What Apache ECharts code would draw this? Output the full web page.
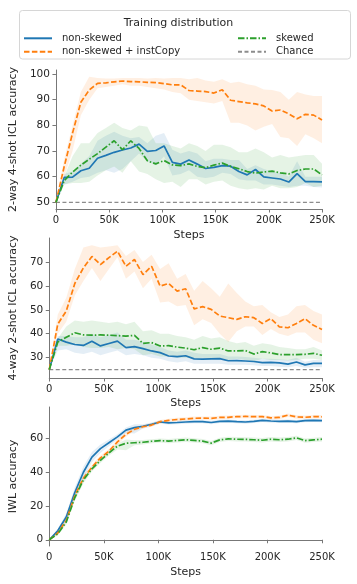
<!DOCTYPE html>
<html>
<head>
<meta charset="utf-8">
<script src="https://cdn.jsdelivr.net/npm/echarts@6/dist/echarts.min.js"></script>
<style>
html,body{margin:0;padding:0;background:#fff;}
#c{width:357px;height:584px;}
</style>
</head>
<body>
<div id="c"></div>
<script>
// ---- data (steps in thousands) ----
const steps = [0,7.8,15.6,23.4,31.3,39.1,46.9,54.7,62.5,70.3,78.1,85.9,93.8,101.6,109.4,117.2,125,132.8,140.6,148.4,156.3,164.1,171.9,179.7,187.5,195.3,203.1,210.9,218.8,226.6,234.4,242.2,250];
const xTickLabels = ['0','50K','100K','150K','200K','250K'];
const seriesNames = ['non-skewed','non-skewed + instCopy','skewed','Chance'];

// Panel 1: 2-way 4-shot ICL accuracy
const p1Blue   = [50,59.7,59.8,62.3,63.3,67.2,68.3,69.5,70.4,71.2,72.7,69.9,70.2,72.0,65.6,64.9,66.5,64.9,63.2,63.6,64.3,64.1,62.0,60.7,62.8,59.9,59.5,59.1,57.9,61.2,58.1,58.1,58.0];
const p1BlueLo = [50,57,58,59.5,60,61.5,62.5,61.5,63,66,69,66,64.5,68,60.5,61,62.5,60,59.5,60,61.5,61,59,58.5,58.5,57,57,56.5,56,56.5,56.5,56,55.8];
const p1BlueHi = [50,61,62,65,68,74,76,77.5,76,75,75.5,73,76,77,70.5,69,70,69,66,67,67,66.5,66.5,63,64.5,63,62,61.5,60,66,60,60,60];
const p1Orange   = [50,64,77,89,93.8,96.4,96.6,97.0,97.3,97.1,97.0,96.8,96.7,96.3,95.8,95.8,93.6,93.4,93.2,92.6,93.9,89.8,89.3,88.8,88.4,87.6,85.6,86.0,84.5,82.6,84.3,84.0,82.1];
const p1OrangeLo = [50,60,70,84,90,94.5,95,95.5,96,95.5,95.5,95,94.5,94,93,92.5,90,89.5,89,88.5,89.5,81,81,80,78,79.5,80.5,75.5,75,72,76.5,75,73];
const p1OrangeHi = [50,67,80,93,99,98.5,98.3,98.3,98.5,98.5,98.5,98.3,98.5,98.3,98.5,98.5,98,98.5,97.5,97,98,96.5,97,96,95.5,94,93.8,93,90,93,92,91.5,91.5];
const p1Green   = [50,58.5,61.8,64.5,66.8,69.0,71.5,74.0,70.5,74.0,71.0,66.2,65.0,66.3,64.6,64.3,65.0,64.0,63.5,64.5,65.3,64.0,63.1,62.0,61.4,61.8,62.2,61.5,61.1,62.4,63.0,63.0,60.7];
const p1GreenLo = [50,57,57.5,57.5,58,60.5,62.5,64,61.5,66,62,61,59,57.5,58,56,59,59,57,58,58.5,56.5,55.5,55,55.5,55,56.5,55.5,55.5,56,57.5,56,56.5];
const p1GreenHi = [50,60,68,73,73,77,79,81,79,78,80,79.5,73,73,72,71,73,72,70,72.5,72.5,71.5,69.5,69.5,71,69.5,67.5,68.5,67.5,68,68.5,68.5,65];
const p1Chance = 50;
const p1YTicks = [50,60,70,80,90,100];

// Panel 2: 4-way 2-shot ICL accuracy
const p2Blue   = [25,37.8,36.5,35.5,35.1,36.9,34.9,35.9,36.9,34.2,34.6,33.8,32.8,32.1,30.7,30.4,30.8,29.5,29.4,29.5,29.6,28.7,28.8,28.6,28.4,27.9,28.0,27.8,27.3,28.2,27.0,27.6,27.6];
const p2BlueLo = [25,33,33.5,32,31.5,32.5,31,32,33,31,31.5,31,30,29.5,28.5,28,28.5,27.5,27.5,27.5,27.5,27,27,27,26.8,26.5,26.5,26.2,26,26.5,25.8,26,26];
const p2BlueHi = [25,39,39,38.5,38.5,40,38.5,39.5,40.5,37.5,37.5,36.5,35.5,34.5,33,32.5,33,32,31.5,31.5,31.5,30.5,30.5,30.3,30,29.5,29.5,29.3,29,30,28.3,29,29];
const p2Orange   = [25,44,49.5,61,67.5,72.3,68.9,71.8,74.5,68.2,71,64.7,68.2,59.9,61,57.8,58.8,50.4,51.3,50.2,47.4,46.7,46,47.1,46.7,44.3,46.3,42.9,42.5,44.3,46.3,43.5,41.8];
const p2OrangeLo = [25,40,45,56,62,67.5,62,67,72,63,66,59,63,53,53.5,51.5,52,43.5,46,44.5,40,36.5,41,43,43,39.5,42,40,39,40.5,40.5,37.5,36];
const p2OrangeHi = [25,48,55,67,76,77,76,76.5,77,72.5,75,70,73,67,69.5,63,65,58,62,59,55.5,61,57,53.5,51.5,52,49,47,48,51.5,52,49.5,48];
const p2Green   = [25,36.5,38.5,40.4,39.5,39.4,39.5,39.4,39.2,39.0,39.3,36.0,36.3,34.9,35.0,34.4,34.0,33.3,34.2,33.5,34.0,32.8,32.8,33.0,31.5,32.5,32.0,31.3,31.3,31.3,31.4,31.8,31.0];
const p2GreenLo = [25,35,35,35.5,34.5,34,34,34.5,33.5,34,33.5,31,31.5,30.5,30.5,30,30,29.5,30,29.5,30,29,29.5,29,28.5,29.5,29,29,28.8,29,29.5,29.5,29];
const p2GreenHi = [25,38,43,45.5,45,45.5,45,44.5,45,44,45,41,41.5,40,40,39,38.5,37.5,39,38,38.5,37,36,36.5,35,36,35.5,34.5,34,33.5,33.5,34.5,33];
const p2Chance = 25;
const p2YTicks = [30,40,50,60,70];

// Panel 3: IWL accuracy
const p3Blue   = [0,5.3,13.5,28,40,49,54,57.5,61,65,66.5,67.3,68.5,69.8,69.3,69.5,69.8,70,70,69.5,70.2,70.3,70,69.8,70.2,70.8,70.4,70.2,70.3,70,70.6,70.8,70.6];
const p3BlueLo = [0,4,11.5,25,36.5,46,51.5,55.5,59.5,63.5,63,66,67.5,68.8,68.3,68.5,68.8,69,69,68.5,69.2,69.3,69,68.8,69.2,69.8,69.4,69.2,69.3,69,69.6,69.8,69.6];
const p3BlueHi = [0,6.5,15.5,31,43.5,52,56.5,59.5,62.5,66.5,68.5,68.5,69.5,70.8,70.3,70.5,70.8,71,71,70.5,71.2,71.3,71,70.8,71.2,71.8,71.4,71.2,71.3,71,71.6,71.8,71.6];
const p3Orange   = [0,4,11.5,26,36.5,43,48.5,52.5,58,62.5,65.5,67,68,70,70.8,71.3,71.6,72,72.1,72,72.5,72.6,73,73.1,73,73,72.3,72.5,73.9,72.8,72.6,73,72.9];
const p3OrangeLo = [0,3,10,24,34.5,41.5,47,51,56.5,61,64.5,66,67,69,69.8,70.3,70.6,71,71.1,71,71.5,71.6,72,72.1,72,72,71.3,71.5,72.9,71.8,71.6,72,71.9];
const p3OrangeHi = [0,5,13,28,38.5,44.5,50,54,59.5,64,67,68,69,71,71.8,72.3,72.6,73,73.1,73,73.5,73.6,74,74.1,74,74,73.3,73.5,74.9,73.8,73.6,74,73.9];
const p3Green   = [0,3.5,10.5,25,35.5,42,47,51.5,55.5,57.2,57.5,57.8,58.4,58.8,58.5,58.9,59.3,58.9,58.5,57.3,59.2,59.8,59.6,59.5,59.3,59,59.6,59.3,59.6,60.4,58.8,59.2,59.6];
const p3GreenLo = [0,2.5,9,23,33.5,40.5,45.5,50,53.5,53,56,56.5,57.2,57.6,57.2,57.6,58,57.6,57.2,56,57.9,58.5,58.3,58.2,58,57.7,58.3,58,58.3,59.1,57.5,57.9,58.3];
const p3GreenHi = [0,4.5,12,27,37.5,43.5,48.5,53,57,59.5,59,59.1,59.6,60,59.8,60.2,60.6,60.2,59.8,58.6,60.5,61.1,60.9,60.8,60.6,60.3,60.9,60.6,60.9,61.7,60.1,60.5,60.9];
const p3YTicks = [0,20,40,60];

// ---- styling ----
const C_BLUE = '#1f77b4', C_ORANGE = '#ff7f0e', C_GREEN = '#2ca02c', C_GREY = '#8c8c8c';
const DASH = [5.5, 2.4];
const DASHDOT = [6.5, 2, 1.5, 2];
const FONT = 'DejaVu Sans';
const TXT = '#262626';
const AX = '#777';

const grids = [
  {left: 48, width: 274, top: 70, height: 139},
  {left: 48, width: 274, top: 238, height: 140},
  {left: 48, width: 274, top: 407, height: 139}
];
const yCfg = [
  {min: 47.4, max: 101.6, ticks: p1YTicks, name: '2-way 4-shot ICL accuracy', gap: 31},
  {min: 21.5, max: 80, ticks: p2YTicks, name: '4-way 2-shot ICL accuracy', gap: 24},
  {min: -3.7, max: 78.7, ticks: p3YTicks, name: 'IWL accuracy', gap: 23}
];

function pts(arr) { return steps.map((s, i) => [s, arr[i]]); }

// confidence band: polygon through the axis scales (lower edge forward, upper edge back)
function band(g, lo, hi, color) {
  return {
    type: 'custom', xAxisIndex: g, yAxisIndex: g, silent: true, z: 1,
    data: steps.map((s, i) => [s, lo[i], hi[i]]),
    encode: {x: 0, y: [1, 2]},
    renderItem: function (params, api) {
      if (params.dataIndex !== 0) return null;
      const poly = [];
      for (let i = 0; i < steps.length; i++) poly.push(api.coord([steps[i], lo[i]]));
      for (let i = steps.length - 1; i >= 0; i--) poly.push(api.coord([steps[i], hi[i]]));
      return {type: 'polygon', shape: {points: poly},
        style: {fill: color, opacity: 0.12, stroke: 'none'}};
    }
  };
}
function line(g, name, arr, color, dash, width) {
  return {type: 'line', name: name, xAxisIndex: g, yAxisIndex: g, data: pts(arr),
    symbol: 'none', z: 3, itemStyle: {color: color},
    lineStyle: {color: color, width: width || 1.7, type: dash || 'solid', cap: 'butt'}};
}
function chance(g, v) {
  return {type: 'line', name: 'Chance', xAxisIndex: g, yAxisIndex: g,
    data: [[steps[0], v], [steps[steps.length - 1], v]],
    symbol: 'none', z: 2, itemStyle: {color: C_GREY},
    lineStyle: {color: C_GREY, width: 1.1, type: [4, 2.5]}};
}

const series = [
  band(0, p1OrangeLo, p1OrangeHi, C_ORANGE),
  band(0, p1BlueLo, p1BlueHi, C_BLUE),
  band(0, p1GreenLo, p1GreenHi, C_GREEN),
  chance(0, p1Chance),
  line(0, seriesNames[0], p1Blue, C_BLUE),
  line(0, seriesNames[1], p1Orange, C_ORANGE, DASH),
  line(0, seriesNames[2], p1Green, C_GREEN, DASHDOT),

  band(1, p2OrangeLo, p2OrangeHi, C_ORANGE),
  band(1, p2BlueLo, p2BlueHi, C_BLUE),
  band(1, p2GreenLo, p2GreenHi, C_GREEN),
  chance(1, p2Chance),
  line(1, seriesNames[0], p2Blue, C_BLUE),
  line(1, seriesNames[1], p2Orange, C_ORANGE, DASH),
  line(1, seriesNames[2], p2Green, C_GREEN, DASHDOT),

  band(2, p3OrangeLo, p3OrangeHi, C_ORANGE),
  band(2, p3BlueLo, p3BlueHi, C_BLUE),
  band(2, p3GreenLo, p3GreenHi, C_GREEN),
  line(2, seriesNames[0], p3Blue, C_BLUE),
  line(2, seriesNames[1], p3Orange, C_ORANGE, DASH),
  line(2, seriesNames[2], p3Green, C_GREEN, DASHDOT)
];

const xAxes = grids.map((g, i) => ({
  type: 'value', gridIndex: i, min: 0, max: 250, interval: 50,
  name: 'Steps', nameLocation: 'middle', nameGap: [21, 20, 20.5][i],
  nameTextStyle: {fontFamily: FONT, fontSize: 11, color: TXT},
  axisLine: {show: true, lineStyle: {color: AX, width: 1}},
  axisTick: {show: true, length: 3.5, lineStyle: {color: AX, width: 1}},
  axisLabel: {fontFamily: FONT, fontSize: 10, color: TXT, margin: 6,
    formatter: v => xTickLabels[Math.round(v / 50)]},
  splitLine: {show: false}
}));
const yAxes = yCfg.map((c, i) => ({
  type: 'value', gridIndex: i, min: c.min, max: c.max,
  name: c.name, nameLocation: 'middle', nameGap: c.gap,
  nameTextStyle: {fontFamily: FONT, fontSize: 11, color: TXT},
  axisLine: {show: true, lineStyle: {color: AX, width: 1}},
  axisTick: {show: true, length: 3.5, lineStyle: {color: AX, width: 1}, customValues: c.ticks},
  axisLabel: {fontFamily: FONT, fontSize: 10.5, color: TXT, margin: 6, customValues: c.ticks},
  splitLine: {show: false}
}));

const legendCommon = {
  orient: 'vertical', top: 33.3, padding: 0, itemWidth: 28, itemHeight: 10, itemGap: 3.4,
  itemStyle: {opacity: 0},
  textStyle: {fontFamily: FONT, fontSize: 10, color: TXT, padding: [0, 0, 0, 5]},
  selectedMode: false
};

const chart = echarts.init(document.getElementById('c'), null, {renderer: 'canvas'});
chart.setOption({
  animation: false,
  backgroundColor: '#fff',
  title: {text: 'Training distribution', left: 'center', top: 13,
    textStyle: {fontFamily: FONT, fontSize: 11, fontWeight: 'normal', color: TXT}},
  graphic: [{type: 'rect', shape: {x: 19.5, y: 10.5, width: 331, height: 48.5, r: 3},
    style: {fill: 'none', stroke: '#d6d6d6', lineWidth: 1}, z: -1, silent: true}],
  legend: [
    Object.assign({}, legendCommon, {left: 23, data: [seriesNames[0], seriesNames[1]]}),
    Object.assign({}, legendCommon, {left: 237, data: [seriesNames[2], seriesNames[3]]})
  ],
  grid: grids,
  xAxis: xAxes,
  yAxis: yAxes,
  series: series
});
</script>
</body>
</html>
